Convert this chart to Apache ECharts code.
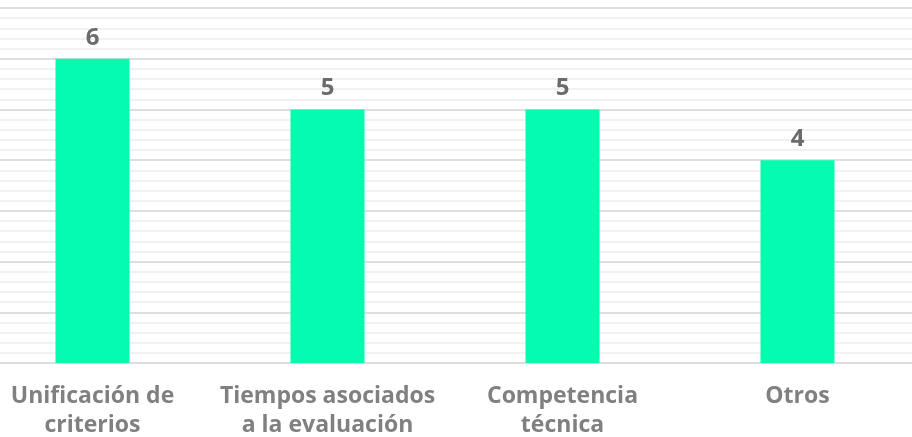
<!DOCTYPE html>
<html style="height: 100%">
<head>
    <meta charset="utf-8">
</head>
<body style="height: 100%; margin: 0; background: #fff; overflow: hidden">
<div id="container" style="width: 940px; height: 437px; margin-left: -25px"></div>
<script type="text/javascript" src="https://fastly.jsdelivr.net/npm/echarts@6/dist/echarts.min.js"></script>
<script type="text/javascript">
    var categories = ['Unificación de\ncriterios', 'Tiempos asociados\na la evaluación', 'Competencia\ntécnica', 'Otros'];
    var values = [6, 5, 5, 4];

    var myChart = echarts.init(document.getElementById('container'), null, {renderer: 'canvas'});

    var option = {
        animation: false,
        grid: {
            left: 0,
            right: 0,
            top: 8,
            bottom: 74,
            containLabel: false,
            outerBoundsMode: 'none'
        },
        xAxis: {
            type: 'category',
            data: categories,
            axisTick: {show: false},
            axisLine: {lineStyle: {color: '#dddddd', width: 2}},
            axisLabel: {
                color: '#808080',
                fontFamily: 'Open Sans',
                fontWeight: 'bold',
                fontSize: 23,
                lineHeight: 29,
                margin: 19,
                interval: 0
            }
        },
        yAxis: {
            type: 'value',
            min: 0,
            max: 7,
            interval: 1,
            axisLabel: {show: false},
            axisLine: {show: false},
            axisTick: {show: false},
            splitLine: {lineStyle: {color: '#dedede', width: 2}},
            minorTick: {show: false, splitNumber: 5},
            minorSplitLine: {show: true, lineStyle: {color: '#f1f1f1', width: 2}}
        },
        series: [{
            type: 'bar',
            data: values,
            barWidth: '31.5%',
            itemStyle: {color: '#05fbb0'},
            label: {
                show: true,
                position: 'top',
                distance: 9,
                color: '#6b6b6b',
                fontFamily: 'Open Sans',
                fontWeight: 'bold',
                fontSize: 24
            }
        }]
    };

    myChart.setOption(option);
</script>
</body>
</html>
